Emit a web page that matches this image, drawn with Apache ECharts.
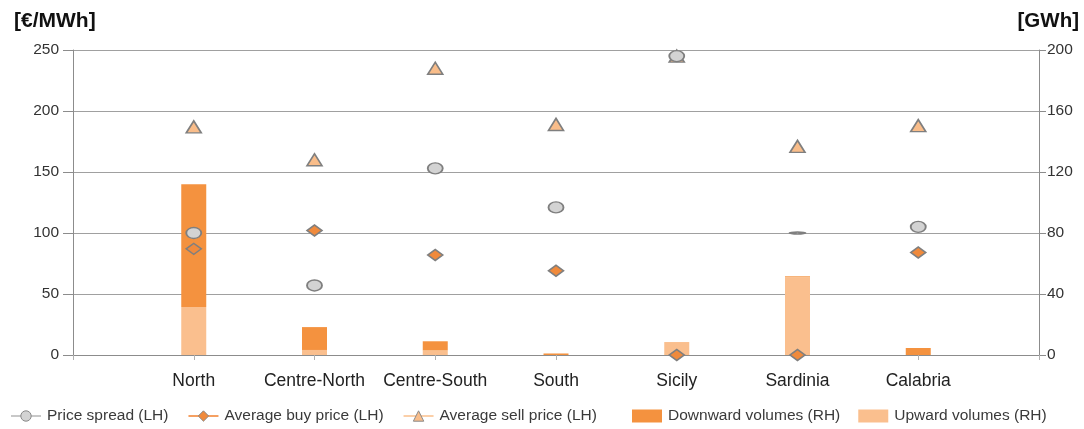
<!DOCTYPE html>
<html>
<head>
<meta charset="utf-8">
<title>Balancing market prices and volumes by zone</title>
<script src="https://cdn.jsdelivr.net/npm/echarts@6/dist/echarts.min.js"></script>
<style>
  html, body { margin: 0; padding: 0; background: #ffffff; }
  #chart { width: 1084px; height: 429px; }
</style>
</head>
<body>
<div id="chart"></div>
<script>
// Market zones (category axis padded with an empty slot at each end)
const zones = ['North', 'Centre-North', 'Centre-South', 'South', 'Sicily', 'Sardinia', 'Calabria'];

// Prices, €/MWh (left axis)
const priceSpread = [100, 57, 153, 121, 245, 100, 105];
const avgBuyPrice = [87, 102, 82, 69, 0, 0, 84];
const avgSellPrice = [187, 160, 235, 189, 245, 171, 188];

// Volumes, GWh (right axis)
const downwardVolumes = [80.5, 15, 6, 1, 0, 0.6, 4.6];
const upwardVolumes = [31.5, 3.3, 3, 0, 8.5, 51, 0];

// Axis ticks
const leftTicks = { min: 0, max: 250, interval: 50 };
const rightTicks = { min: 0, max: 200, interval: 40 };

const pad = arr => [null, ...arr, null];
const categories = pad(zones).map(v => v === null ? '' : v);

const GRID_GREY = '#a0a0a0';
const AXIS_GREY = '#8c8c8c';
const MARK_BORDER = '#7f7f7f';
const FONT = 'Liberation Sans, Arial, sans-serif';

const chart = echarts.init(document.getElementById('chart'), null, { renderer: 'canvas' });

const markerSeries = (name, data, symbol, size, fill, legendLine) => ({
  name,
  type: 'line',
  yAxisIndex: 0,
  data: pad(data),
  symbol,
  symbolSize: size,
  showAllSymbol: true,
  z: 5,
  lineStyle: { width: 0, color: legendLine },
  itemStyle: { color: fill, borderColor: MARK_BORDER, borderWidth: 1.6 },
  emphasis: { disabled: true },
  animation: false
});

const legendText = { fontSize: 15.5, color: '#3a3a3a', fontFamily: FONT, padding: [0, 0, 0, 1] };

chart.setOption({
  animation: false,
  textStyle: { fontFamily: FONT },
  grid: { left: 73, right: 45, top: 50, bottom: 74, containLabel: false },
  graphic: [
    { type: 'text', left: 14, top: 11, style: { text: '[€/MWh]', font: 'bold 21px ' + FONT, fill: '#111' } },
    { type: 'text', right: 5, top: 11, style: { text: '[GWh]', font: 'bold 20.5px ' + FONT, fill: '#111' } }
  ],
  legend: [
    {
      // price markers
      left: 5,
      top: 403,
      itemGap: 19,
      itemWidth: 30,
      itemHeight: 13,
      textStyle: legendText,
      data: [
        { name: 'Price spread (LH)', itemStyle: { color: '#d3d3d3', borderColor: '#8a8a8a', borderWidth: 1 }, lineStyle: { width: 2, color: '#c8c8c8' } },
        { name: 'Average buy price (LH)', itemStyle: { color: '#f08a3c', borderColor: '#8a8a8a', borderWidth: 1 }, lineStyle: { width: 2, color: '#f5a062' } },
        { name: 'Average sell price (LH)', itemStyle: { color: '#f9bd8a', borderColor: '#8a8a8a', borderWidth: 1 }, lineStyle: { width: 2, color: '#fbcfa8' } }
      ]
    },
    {
      // volume bars
      left: 627,
      top: 403,
      itemGap: 18,
      itemWidth: 30,
      itemHeight: 13,
      textStyle: legendText,
      data: [
        { name: 'Downward volumes (RH)', icon: 'rect', itemStyle: { color: '#f4923f' } },
        { name: 'Upward volumes (RH)', icon: 'rect', itemStyle: { color: '#fabf8e' } }
      ]
    }
  ],
  xAxis: {
    type: 'category',
    data: categories,
    boundaryGap: false,
    axisLine: { show: true, lineStyle: { color: AXIS_GREY, width: 1 } },
    axisTick: { show: true, length: 5, lineStyle: { color: '#b0b0b0' } },
    axisLabel: { fontSize: 17.5, color: '#222', margin: 17, fontFamily: FONT, interval: 0 },
    splitLine: { show: false }
  },
  yAxis: [
    {
      type: 'value',
      position: 'left',
      min: leftTicks.min, max: leftTicks.max, interval: leftTicks.interval,
      axisLine: { show: true, lineStyle: { color: AXIS_GREY } },
      axisTick: { show: true, length: 10, lineStyle: { color: AXIS_GREY } },
      axisLabel: { fontSize: 15.5, color: '#333', margin: 14, fontFamily: FONT },
      splitLine: { show: true, lineStyle: { color: GRID_GREY, width: 1 } }
    },
    {
      type: 'value',
      position: 'right',
      min: rightTicks.min, max: rightTicks.max, interval: rightTicks.interval,
      axisLine: { show: true, lineStyle: { color: AXIS_GREY } },
      axisTick: { show: true, length: 7, lineStyle: { color: AXIS_GREY } },
      axisLabel: { fontSize: 15.5, color: '#333', margin: 8, fontFamily: FONT },
      splitLine: { show: false }
    }
  ],
  series: [
    {
      name: 'Upward volumes (RH)',
      type: 'bar',
      yAxisIndex: 1,
      stack: 'volumes',
      barWidth: 25,
      data: pad(upwardVolumes),
      itemStyle: { color: '#fabf8e' },
      z: 2
    },
    {
      name: 'Downward volumes (RH)',
      type: 'bar',
      yAxisIndex: 1,
      stack: 'volumes',
      barWidth: 25,
      data: pad(downwardVolumes),
      itemStyle: { color: '#f4923f' },
      z: 2
    },
    markerSeries('Average sell price (LH)', avgSellPrice, 'triangle', [15, 12], '#f9bd8a', '#fbcfa8'),
    markerSeries('Average buy price (LH)', avgBuyPrice, 'diamond', [15, 11], '#f08a3c', '#f5a062'),
    Object.assign(
      markerSeries('Price spread (LH)', priceSpread, 'circle', [15, 11], '#d3d3d3', '#c8c8c8'),
      // the Sardinia spread point is drawn as a flat dash
      { symbolSize: (v, p) => (p.dataIndex === 6 ? [10, 2] : [15, 11]) }
    )
  ]
});
</script>
</body>
</html>
